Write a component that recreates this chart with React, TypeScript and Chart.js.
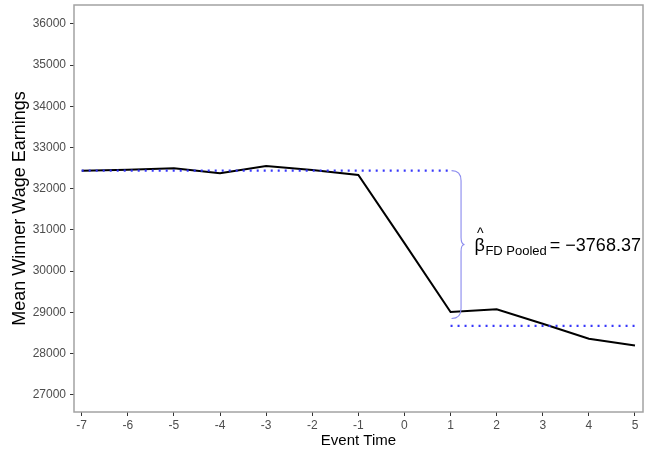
import React, { useEffect, useRef } from "react";
import { Chart, registerables } from "chart.js";

Chart.register(...registerables);

const eventTime = [-7, -6, -5, -4, -3, -2, -1, 0, 1, 2, 3, 4, 5];
const meanEarnings = [32438, 32464, 32497, 32375, 32553, 32455, 32334, 30680, 29008, 29073, 28724, 28357, 28195];
const xTicks = [-7, -6, -5, -4, -3, -2, -1, 0, 1, 2, 3, 4, 5];
const yTicks = [27000, 28000, 29000, 30000, 31000, 32000, 33000, 34000, 35000, 36000];
const preMean = 32440;
const betaPooled = -3768.37;
const postMean = preMean + betaPooled;
const preRange = [-7, 1];
const postRange = [1, 5];
const braceX = 1;
const braceBottom = 28850;
const betaLabelValue = "−3768.37";

const FONT = "'Liberation Sans', Arial, Helvetica, sans-serif";

const overlayPlugin = {
  id: "overlay",
  afterDatasetsDraw(chart: any) {
    const { ctx, chartArea, scales } = chart;
    const xs = scales.x;
    const ys = scales.y;
    ctx.save();
    // brace
    const x0 = xs.getPixelForValue(braceX) + 1;
    const yTop = ys.getPixelForValue(preMean);
    const yBot = ys.getPixelForValue(braceBottom);
    const yMid = (yTop + yBot) / 2;
    const hw = 9.5;
    const w = 13;
    const q = 10;
    ctx.strokeStyle = "#8a8aee";
    ctx.lineWidth = 1.1;
    ctx.beginPath();
    ctx.moveTo(x0, yTop);
    ctx.quadraticCurveTo(x0 + hw, yTop, x0 + hw, yTop + q);
    ctx.lineTo(x0 + hw, yMid - q * 0.7);
    ctx.quadraticCurveTo(x0 + hw, yMid, x0 + w, yMid);
    ctx.quadraticCurveTo(x0 + hw, yMid, x0 + hw, yMid + q * 0.7);
    ctx.lineTo(x0 + hw, yBot - q);
    ctx.quadraticCurveTo(x0 + hw, yBot, x0, yBot);
    ctx.stroke();

    // label
    let tx = x0 + w + 10;
    const base = yMid + 6;
    ctx.fillStyle = "#000";
    ctx.textBaseline = "alphabetic";
    ctx.textAlign = "left";
    ctx.font = `18px ${FONT}`;
    ctx.fillText("β", tx, base);
    const bw = ctx.measureText("β").width;
    ctx.textAlign = "center";
    ctx.font = `14px ${FONT}`;
    ctx.fillText("^", tx + bw / 2 + 0.5, base - 13);
    ctx.textAlign = "left";
    tx += bw + 0.5;
    ctx.font = `13px ${FONT}`;
    const sub = "FD Pooled";
    ctx.fillText(sub, tx, base + 4);
    tx += ctx.measureText(sub).width + 3;
    ctx.font = `18px ${FONT}`;
    ctx.fillText("= " + betaLabelValue, tx, base);

    // panel border
    ctx.strokeStyle = "#a3a3a3";
    ctx.lineWidth = 1.5;
    ctx.strokeRect(chartArea.left, chartArea.top, chartArea.right - chartArea.left, chartArea.bottom - chartArea.top);
    ctx.restore();
  },
};

export default function App() {
  const ref = useRef<HTMLCanvasElement | null>(null);
  useEffect(() => {
    document.body.style.margin = "0";
    const canvas = ref.current;
    if (!canvas) return;
    const dotted = {
      borderColor: "rgba(45,45,250,0.95)",
      borderWidth: 2.4,
      borderDash: [2, 5],
      pointRadius: 0,
      fill: false,
      tension: 0,
    };
    const chart = new Chart(canvas, {
      type: "line",
      data: {
        datasets: [
          { ...dotted, data: [{ x: preRange[0], y: preMean }, { x: preRange[1], y: preMean }] },
          { ...dotted, data: [{ x: postRange[0], y: postMean }, { x: postRange[1], y: postMean }] },
          {
            data: eventTime.map((x, i) => ({ x, y: meanEarnings[i] })),
            borderColor: "#000",
            borderWidth: 2,
            pointRadius: 0,
            fill: false,
            tension: 0,
          },
        ],
      },
      options: {
        responsive: false,
        animation: false,
        layout: { padding: { left: 0, right: 5, top: 5, bottom: 0 } },
        plugins: { legend: { display: false }, tooltip: { enabled: false } },
        scales: {
          x: {
            type: "linear",
            min: -7.167,
            max: 5.174,
            afterBuildTicks: (s: any) => {
              s.ticks = xTicks.map((v) => ({ value: v }));
            },
            afterFit: (s: any) => {
              s.height = 43;
              s.paddingLeft = 0;
              s.paddingRight = 0;
            },
            grid: { drawOnChartArea: false, drawTicks: true, tickLength: 4, color: "#333", lineWidth: 1 },
            border: { display: false },
            ticks: {
              autoSkip: false,
              maxRotation: 0,
              padding: 2,
              color: "#4d4d4d",
              font: { family: FONT, size: 12 },
              callback: (v: any) => String(v),
            },
            title: {
              display: true,
              text: "Event Time",
              color: "#000",
              font: { family: FONT, size: 15 },
              padding: { top: 0, bottom: 5 },
            },
          },
          y: {
            type: "linear",
            min: 26580,
            max: 36461,
            afterBuildTicks: (s: any) => {
              s.ticks = yTicks.map((v) => ({ value: v }));
            },
            afterFit: (s: any) => {
              s.width = 74;
              s.paddingTop = 0;
              s.paddingBottom = 0;
            },
            grid: { drawOnChartArea: false, drawTicks: true, tickLength: 4, color: "#333", lineWidth: 1 },
            border: { display: false },
            ticks: {
              padding: 4,
              color: "#4d4d4d",
              font: { family: FONT, size: 12 },
              callback: (v: any) => String(v),
            },
            title: {
              display: true,
              text: "Mean Winner Wage Earnings",
              color: "#000",
              font: { family: FONT, size: 18 },
              padding: { top: 9, bottom: 0 },
            },
          },
        },
      },
      plugins: [overlayPlugin],
    });
    return () => chart.destroy();
  }, []);
  return <canvas ref={ref} width={648} height={455} style={{ display: "block" }} />;
}
